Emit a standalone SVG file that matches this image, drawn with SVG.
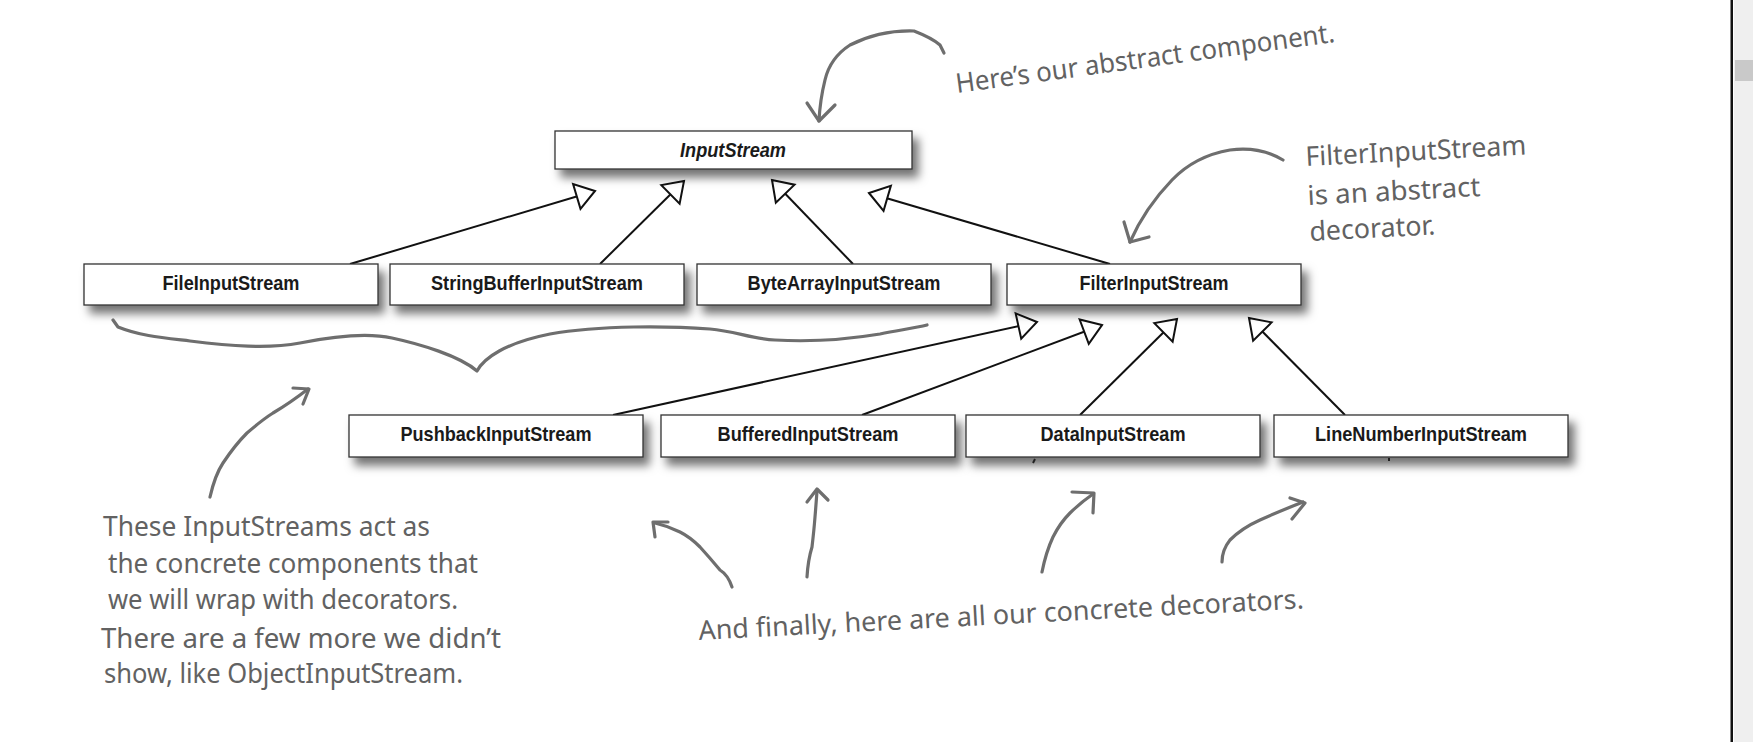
<svg xmlns="http://www.w3.org/2000/svg" width="1753" height="742" viewBox="0 0 1753 742">
<defs>
<filter id="sh" x="-10%" y="-30%" width="125%" height="190%">
<feDropShadow dx="6" dy="8" stdDeviation="5" flood-color="#000" flood-opacity="0.55"/>
</filter>
<marker id="tri" viewBox="-24 -17 28 34" markerWidth="28" markerHeight="34" refX="0" refY="0" orient="auto" markerUnits="userSpaceOnUse" style="overflow:visible">
<path d="M0,0 L-19,-13 L-19,13 Z" fill="#fff" stroke="#111" stroke-width="2" stroke-linejoin="miter"/>
</marker>
</defs>
<style>
.box{fill:#fff;stroke:#333;stroke-width:1.3;filter:url(#sh)}
.lbl{font-family:"Liberation Sans",Arial,sans-serif;font-weight:bold;font-size:20.5px;fill:#1a1a1a;text-anchor:middle}
.edge{stroke:#111;stroke-width:2;fill:none;marker-end:url(#tri)}
.hand{stroke:#6e6e6e;stroke-width:3.2;fill:none;stroke-linecap:round;stroke-linejoin:round}
.note{font-family:"Noto Sans","Open Sans",sans-serif;font-size:27px;fill:#626262}
</style>
<rect width="1753" height="742" fill="#fff"/>

<g id="connectors">
<path class="edge" d="M350,264 L595,191"/>
<path class="edge" d="M600,264 L684,181"/>
<path class="edge" d="M853,264 L772,180"/>
<path class="edge" d="M1110,264 L869,193"/>
<path class="edge" d="M613,415 L1037,322"/>
<path class="edge" d="M862,415 L1102,325"/>
<path class="edge" d="M1080,415 L1177,319"/>
<path class="edge" d="M1345,415 L1249,318"/>
</g>

<g id="InputStream"><rect class="box" x="555" y="131" width="357" height="38"/><text class="lbl" x="733" y="157" font-style="italic" textLength="106" lengthAdjust="spacingAndGlyphs">InputStream</text></g>
<g id="FileInputStream"><rect class="box" x="84" y="264" width="294" height="41"/><text class="lbl" x="231" y="290" textLength="137" lengthAdjust="spacingAndGlyphs">FileInputStream</text></g>
<g id="StringBufferInputStream"><rect class="box" x="390" y="264" width="294" height="41"/><text class="lbl" x="537" y="290" textLength="212" lengthAdjust="spacingAndGlyphs">StringBufferInputStream</text></g>
<g id="ByteArrayInputStream"><rect class="box" x="697" y="264" width="294" height="41"/><text class="lbl" x="844" y="290" textLength="193" lengthAdjust="spacingAndGlyphs">ByteArrayInputStream</text></g>
<g id="FilterInputStream"><rect class="box" x="1007" y="264" width="294" height="41"/><text class="lbl" x="1154" y="290" textLength="149" lengthAdjust="spacingAndGlyphs">FilterInputStream</text></g>
<g id="PushbackInputStream"><rect class="box" x="349" y="415" width="294" height="42"/><text class="lbl" x="496" y="441" textLength="191" lengthAdjust="spacingAndGlyphs">PushbackInputStream</text></g>
<g id="BufferedInputStream"><rect class="box" x="661" y="415" width="294" height="42"/><text class="lbl" x="808" y="441" textLength="181" lengthAdjust="spacingAndGlyphs">BufferedInputStream</text></g>
<g id="DataInputStream"><rect class="box" x="966" y="415" width="294" height="42"/><text class="lbl" x="1113" y="441" textLength="145" lengthAdjust="spacingAndGlyphs">DataInputStream</text></g>
<g id="LineNumberInputStream"><rect class="box" x="1274" y="415" width="294" height="42"/><text class="lbl" x="1421" y="441" textLength="212" lengthAdjust="spacingAndGlyphs">LineNumberInputStream</text></g>

<g id="marks" stroke="#222" stroke-width="2" fill="none">
<path d="M1035,459 L1033,463"/>
<path d="M1389,458 L1389,461"/>
</g>

<g id="annotations">
<path class="hand" d="M944,53 L940,45 Q932,38 914,31 Q880,30 850,45 Q830,58 825,80 Q820,100 819,121"/>
<path class="hand" d="M807,103 L819,121 L835,105"/>
<text class="note" x="957" y="93" transform="rotate(-7.7 957 93)" textLength="382" lengthAdjust="spacingAndGlyphs">Here’s our abstract component.</text>

<path class="hand" d="M1283,160 Q1260,146 1230,150 Q1195,156 1172,180 Q1145,208 1130,242"/>
<path class="hand" d="M1124,222 L1130,242 L1149,237"/>
<g transform="rotate(-3 1306 166)">
<text class="note" x="1306" y="166" textLength="221" lengthAdjust="spacingAndGlyphs">FilterInputStream</text>
<text class="note" x="1306" y="205" textLength="173" lengthAdjust="spacingAndGlyphs">is an abstract</text>
<text class="note" x="1306" y="241" textLength="126" lengthAdjust="spacingAndGlyphs">decorator.</text>
</g>

<path class="hand" d="M113,320 L118,327 C140,336 165,338 190,341 C230,346 268,349 300,343 C330,337 365,332 392,338 C420,344 460,356 477,371 C484,358 505,343 550,334 C600,325 670,326 710,329 C735,331 752,339 775,340 C810,342 850,339 880,334 C900,330 915,328 927,325"/>

<path class="hand" d="M210,497 Q215,475 223,463 Q235,445 247,433 Q262,420 273,413 Q290,403 308,389"/>
<path class="hand" d="M293,388 L309,389 L303,404"/>
<text class="note" x="103" y="536" textLength="327" lengthAdjust="spacingAndGlyphs">These InputStreams act as</text>
<text class="note" x="108" y="573" textLength="370" lengthAdjust="spacingAndGlyphs">the concrete components that</text>
<text class="note" x="108" y="609" textLength="350" lengthAdjust="spacingAndGlyphs">we will wrap with decorators.</text>
<text class="note" x="101" y="648" textLength="400" lengthAdjust="spacingAndGlyphs">There are a few more we didn’t</text>
<text class="note" x="104" y="683" textLength="359" lengthAdjust="spacingAndGlyphs">show, like ObjectInputStream.</text>

<path class="hand" d="M732,587 Q728,575 720,570 Q710,558 700,547 Q690,537 680,532 Q668,526 655,523"/>
<path class="hand" d="M655,537 L653,522 L668,522"/>
<path class="hand" d="M807,577 Q808,560 812,547 Q814,530 815,517 Q816,505 817,491"/>
<path class="hand" d="M807,502 L817,489 L828,500"/>
<path class="hand" d="M1042,572 Q1046,552 1053,537 Q1060,523 1070,513 Q1080,503 1093,494"/>
<path class="hand" d="M1072,492 L1094,493 L1093,513"/>
<path class="hand" d="M1222,562 Q1222,550 1230,540 Q1242,528 1260,520 Q1280,511 1303,502"/>
<path class="hand" d="M1290,498 L1305,503 L1292,519"/>
<text class="note" x="699" y="640" transform="rotate(-3 699 640)" textLength="606" lengthAdjust="spacingAndGlyphs">And finally, here are all our concrete decorators.</text>
</g>

<g id="scrollbar">
<rect x="1734" y="0" width="19" height="742" fill="#efefef"/>
<rect x="1735" y="60" width="18" height="21" fill="#c9c9c9"/>
<rect x="1730.5" y="0" width="2.5" height="742" fill="#111"/>
</g>
</svg>
